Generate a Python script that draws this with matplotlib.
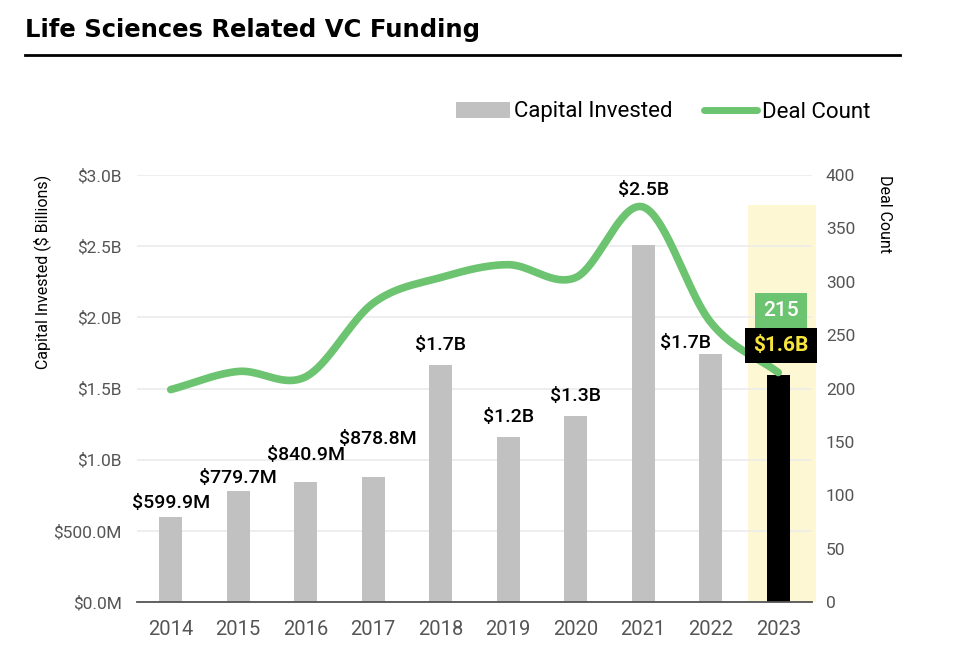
import numpy as np
import matplotlib
matplotlib.use("Agg")
import matplotlib.pyplot as plt
from matplotlib.patches import Patch, Rectangle
from matplotlib.lines import Line2D

plt.rcParams['font.family'] = ['Roboto', 'DejaVu Sans']

years = ['2014', '2015', '2016', '2017', '2018', '2019', '2020', '2021', '2022', '2023']
capital_b = [0.5999, 0.7797, 0.8409, 0.8788, 1.665, 1.16, 1.305, 2.51, 1.74, 1.595]
capital_labels = ['$599.9M', '$779.7M', '$840.9M', '$878.8M', '$1.7B', '$1.2B',
                  '$1.3B', '$2.5B', '$1.7B', '$1.6B']
deal_count = [199, 216, 211, 280, 304, 316, 304, 370, 262, 215]

# label offsets (points) above each bar, and horizontal shift
label_dy = [3, 3, 13, 21, 8, 8, 8, 33, 2, 0]
label_dx = [0, 0, 0, 3, 0, 0, 0, 0, -18, 0]

GRAY = '#c1c1c1'
GREEN = '#6cc470'
YELLOW = '#fdf7d3'
TICK = '#555555'


def smooth(xs, ys, n=40):
    # catmull-rom curve through the points
    xs = np.asarray(xs, float)
    ys = np.asarray(ys, float)
    px = np.concatenate([[2 * xs[0] - xs[1]], xs, [2 * xs[-1] - xs[-2]]])
    py = np.concatenate([[2 * ys[0] - ys[1]], ys, [2 * ys[-1] - ys[-2]]])
    out_x, out_y = [], []
    t = np.linspace(0, 1, n)
    for i in range(1, len(px) - 2):
        for p, out in ((px, out_x), (py, out_y)):
            p0, p1, p2, p3 = p[i - 1], p[i], p[i + 1], p[i + 2]
            out.extend(0.5 * ((2 * p1) + (-p0 + p2) * t
                              + (2 * p0 - 5 * p1 + 4 * p2 - p3) * t ** 2
                              + (-p0 + 3 * p1 - 3 * p2 + p3) * t ** 3))
    return np.array(out_x), np.array(out_y)


fig = plt.figure(figsize=(9.6, 6.55), dpi=100)
ax = fig.add_axes([0.1427, 0.0809, 0.7031, 0.6519])
ax2 = ax.twinx()

x = np.arange(len(years))
colors = [GRAY] * (len(years) - 1) + ['black']
ax.bar(x, capital_b, width=0.34, color=colors, zorder=2)

# highlight of the last year
ax.add_patch(Rectangle((8.55, 0), 1.01, 2.79, facecolor=YELLOW, edgecolor='none',
                       zorder=0.2, clip_on=False))

for i, (v, lab) in enumerate(zip(capital_b, capital_labels)):
    if i == len(years) - 1:
        continue
    ax.annotate(lab, (x[i], v), xytext=(label_dx[i], label_dy[i]), textcoords='offset points',
                ha='center', va='bottom', fontsize=14, fontweight='medium', color='black', zorder=5)

ax.set_xlim(-0.5, 9.5)
ax.set_ylim(0, 3.0)
ax.set_yticks(np.arange(0, 3.01, 0.5))
ax.set_yticklabels(['$0.0M', '$500.0M', '$1.0B', '$1.5B', '$2.0B', '$2.5B', '$3.0B'])
ax.set_xticks(x)
ax.set_xticklabels(years)
ax.set_axisbelow(True)
ax.grid(axis='y', color='#ebebeb', lw=1.2)
ax.tick_params(axis='y', length=0, pad=11, labelsize=12.5, labelcolor=TICK)
ax.tick_params(axis='x', length=0, pad=13, labelsize=14.5, labelcolor=TICK)
for s in ['top', 'left', 'right']:
    ax.spines[s].set_visible(False)
ax.spines['bottom'].set_color('#555555')
ax.spines['bottom'].set_linewidth(1.3)

sx, sy = smooth(x, deal_count)
ax2.plot(sx, sy, color=GREEN, lw=5.5, solid_capstyle='round', zorder=3)
ax2.set_ylim(0, 400)
ax2.set_yticks(np.arange(0, 401, 50))
ax2.tick_params(axis='y', length=0, pad=10, labelsize=12.5, labelcolor=TICK)
for s in ax2.spines.values():
    s.set_visible(False)

# boxes for the latest year
ax2.text(x[-1] + 0.04, 273, str(deal_count[-1]), ha='center', va='center', fontsize=15,
         fontweight='medium', color='white', zorder=6,
         bbox=dict(boxstyle='square,pad=0.4', facecolor=GREEN, edgecolor='none'))
ax2.text(x[-1] + 0.04, 240, capital_labels[-1], ha='center', va='center', fontsize=15,
         fontweight='bold', color='#f7e53b', zorder=6,
         bbox=dict(boxstyle='square,pad=0.38', facecolor='black', edgecolor='none'))

fig.text(42 / 960, 1 - 175 / 655, 'Capital Invested ($ Billions)', rotation=90,
         ha='center', va='top', fontsize=11.5, color='black')
fig.text(885 / 960, 1 - 175 / 655, 'Deal Count', rotation=-90,
         ha='center', va='top', fontsize=11.5, color='black')

fig.text(25 / 960, 1 - 30 / 655, 'Life Sciences Related VC Funding', ha='left', va='center',
         fontsize=17.5, fontweight='bold', family=['DejaVu Sans'], color='black')
fig.add_artist(Line2D([25 / 960, 900 / 960], [1 - 55 / 655, 1 - 55 / 655],
                      color='black', lw=2.0, transform=fig.transFigure))

handles = [Patch(facecolor=GRAY, edgecolor='none'),
           Line2D([0], [0], color=GREEN, lw=5, solid_capstyle='round')]
fig.legend(handles, ['Capital Invested', 'Deal Count'], loc='center right',
           bbox_to_anchor=(890 / 960, 1 - 112 / 655), ncol=2, frameon=False,
           fontsize=16, handlelength=2.4, handletextpad=0.2, columnspacing=1.4)

fig.savefig('out.png', dpi=100)
